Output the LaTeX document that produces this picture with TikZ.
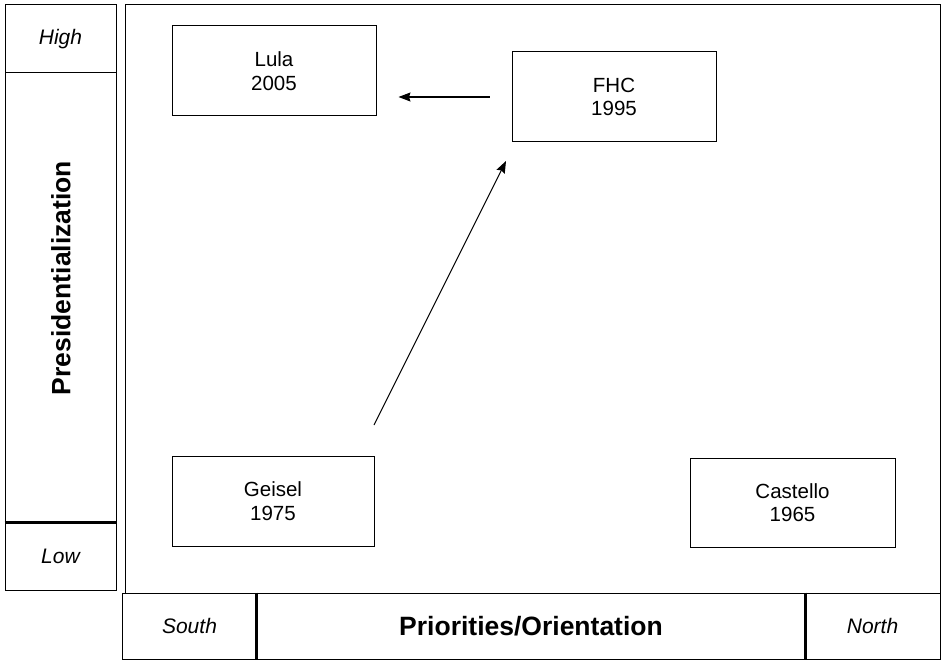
\documentclass[tikz,border=0pt]{standalone}
\usepackage{fontspec}
\setmainfont{Liberation Sans}
\usepackage{tikz}
\usetikzlibrary{arrows.meta}
\tikzstyle{case} = [draw, line width=1pt, minimum width=204pt, minimum height=90pt, align=center, font=\fontsize{20.5}{23.5}\selectfont, inner sep=0pt]
\tikzstyle{axisbox} = [draw, line width=1pt, inner sep=0pt, font=\fontsize{21}{24}\selectfont\itshape]
\tikzstyle{axistitle} = [font=\fontsize{26.5}{30}\selectfont\bfseries]
\tikzstyle{divider} = [line width=2.2pt]
\tikzstyle{arrow} = [line width=1.1pt, -{Stealth[length=12pt,width=9pt,inset=1.5pt]}]

\begin{document}
\begin{tikzpicture}[x=1pt, y=-1pt]
    \useasboundingbox (0,0) rectangle (941,660);

    % vertical axis
    \node[axisbox, minimum width=111pt, minimum height=68pt] (high) at (60.5,39) {High};
    \draw[line width=1pt] (5,73) rectangle (116,523);
    \node[axistitle] (pres) at (61,278) {\rotatebox{90}{Presidentialization}};
    \node[axisbox, minimum width=111pt, minimum height=67pt] (low) at (60.5,556.5) {Low};
    \draw[divider] (low.north west) -- (low.north east);

    % main panel
    \draw[line width=1pt] (125,5) rectangle (940,593);

    % horizontal axis
    \node[axisbox, minimum width=135pt, minimum height=66pt] (south) at (189.5,626) {South};
    \node[axisbox, minimum width=548pt, minimum height=66pt, axistitle] (prio) at (531,626) {Priorities/Orientation};
    \node[axisbox, minimum width=135pt, minimum height=66pt] (north) at (872.5,626) {North};
    \draw[divider] (prio.north west) -- (prio.south west);
    \draw[divider] (prio.north east) -- (prio.south east);

    % presidents
    \node[case] (lula) at (274,71) {Lula\\2005};
    \node[case] (fhc) at (614,97) {FHC\\1995};
    \node[case, minimum width=202pt] (geisel) at (273,501) {Geisel\\1975};
    \node[case, minimum width=205pt, minimum height=89pt] (castello) at (792.5,502.5) {Castello\\1965};

    % transitions
    \coordinate (start) at (374,425);
    \coordinate (stop) at (506,161);
    \draw[arrow] (start) -- (stop);
    \draw[arrow, shorten <=22pt, shorten >=22pt] (fhc.west) -- (fhc.west -| lula.east);
\end{tikzpicture}
\end{document}
